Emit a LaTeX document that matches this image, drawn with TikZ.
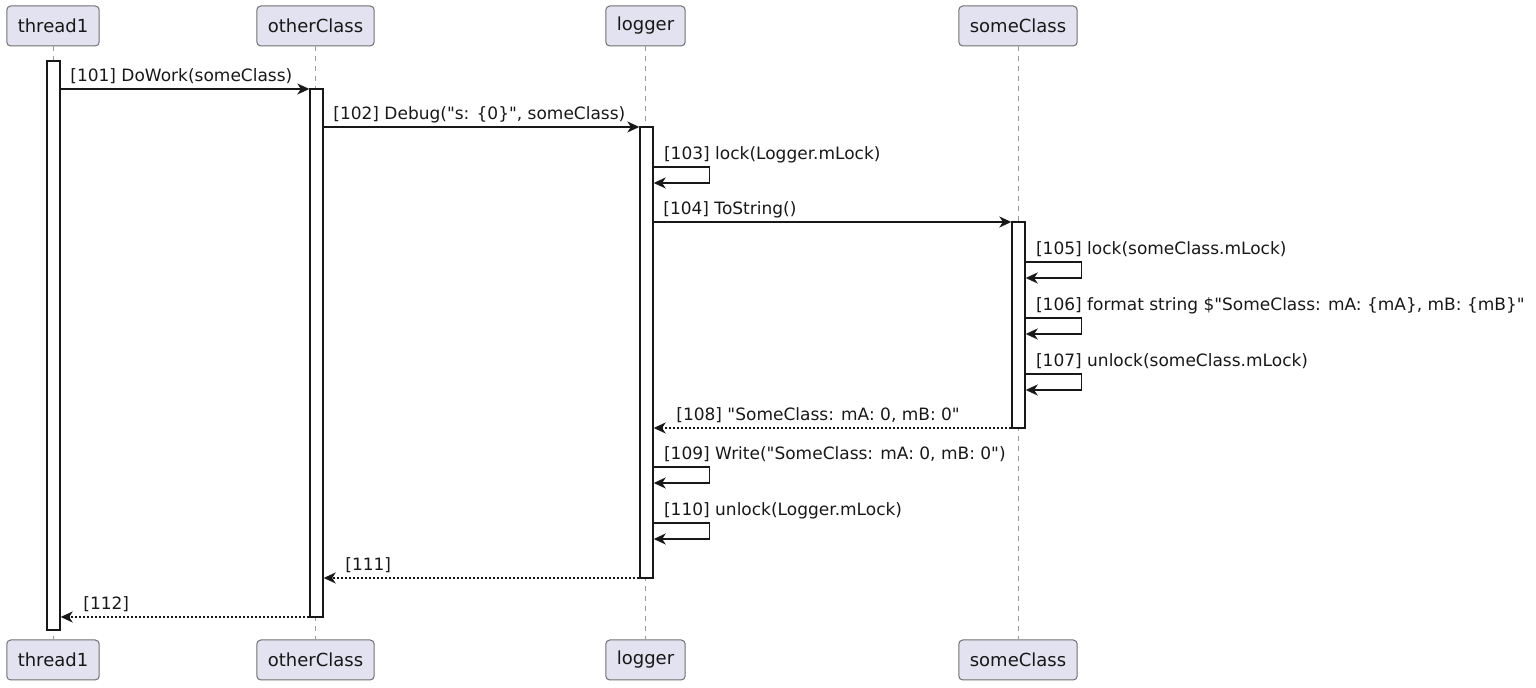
\documentclass[tikz,border=0pt]{standalone}
\usepackage{fontspec}
\setmainfont{DejaVu Sans}[Ligatures=TeXOff]
\usepackage{tikz}
\usetikzlibrary{arrows.meta,calc}
\definecolor{partfill}{HTML}{E2E2F0}
\definecolor{partline}{HTML}{707070}
\definecolor{lifegray}{HTML}{9A9A9A}
\definecolor{inkdark}{HTML}{181818}

\tikzset{
  participant/.style={draw=partline, fill=partfill, rounded corners=2pt, line width=0.5pt,
    minimum height=20pt, inner xsep=5.5pt, font=\fontsize{9}{10}\selectfont, text=inkdark},
  lifeline/.style={lifegray, line width=0.5pt, dash pattern=on 2.5pt off 2.5pt},
  actbar/.style={draw=inkdark, fill=white, line width=0.7pt, minimum width=6.5pt, inner sep=0pt},
  msg/.style={inkdark, line width=0.7pt, -{Stealth[length=6pt,width=5.5pt,inset=1.8pt]}},
  ret/.style={msg, dash pattern=on 1pt off 1pt},
  lbl/.style={font=\fontsize{8.5}{10}\selectfont, anchor=base west, inner sep=0pt, text=inkdark}
}

\begin{document}
\begin{tikzpicture}[x=0.5pt, y=-0.5pt]
    \useasboundingbox (0,0) rectangle (1536,688);

    % Participants, top and bottom, with lifelines
    \foreach \n/\x in {thread1/53, otherClass/315.5, logger/645.5, someClass/1018} {
        \node[participant] (top\n) at (\x,26) {\n};
        \node[participant] (bot\n) at (\x,660) {\n};
        \draw[lifeline] (top\n) -- (bot\n);
    }

    % Activation bars
    \node[actbar, minimum height={(630-61)*0.5pt}] (barT) at (53.5,345.5) {};
    \node[actbar, minimum height={(617-89)*0.5pt}] (barO) at (316.5,353) {};
    \node[actbar, minimum height={(578-127)*0.5pt}] (barL) at (646.5,352.5) {};
    \node[actbar, minimum height={(428-222)*0.5pt}] (barS) at (1018.5,325) {};

    % Calls
    \draw[msg] (barT.east |- 0,89) -- (barO.west |- 0,89);
    \node[lbl] (l101) at (70,82) {[101] DoWork(someClass)};
    \draw[msg] (barO.east |- 0,127) -- (barL.west |- 0,127);
    \node[lbl] (l102) at (333,120) {[102] Debug("s: \{0\}", someClass)};
    \draw[msg] (barL.east |- 0,222) -- (barS.west |- 0,222);
    \node[lbl] (l104) at (663,215) {[104] ToString()};

    % Self messages
    \foreach \b/\y/\t in {barL/167/{[103] lock(Logger.mLock)},
                          barS/262/{[105] lock(someClass.mLock)},
                          barS/318/{[106] format string \$"SomeClass: mA: \{mA\}, mB: \{mB\}"},
                          barS/374/{[107] unlock(someClass.mLock)},
                          barL/467/{[109] Write("SomeClass: mA: 0, mB: 0")},
                          barL/523/{[110] unlock(Logger.mLock)}} {
        \draw[msg] (\b.east |- 0,\y) -- ++(56,0) -- ++(0,16) -- (\b.east |- 0,\y+16);
        \node[lbl] at ($(\b.east |- 0,\y)+(10,-7)$) {\t};
    }

    % Returns
    \draw[ret] (barS.west |- 0,428) -- (barL.east |- 0,428);
    \node[lbl] (l108) at (676,421) {[108] "SomeClass: mA: 0, mB: 0"};
    \draw[ret] (barL.west |- 0,578) -- (barO.east |- 0,578);
    \node[lbl] (l111) at (345,571) {[111]};
    \draw[ret] (barO.west |- 0,617) -- (barT.east |- 0,617);
    \node[lbl] (l112) at (83,610) {[112]};
\end{tikzpicture}
\end{document}
